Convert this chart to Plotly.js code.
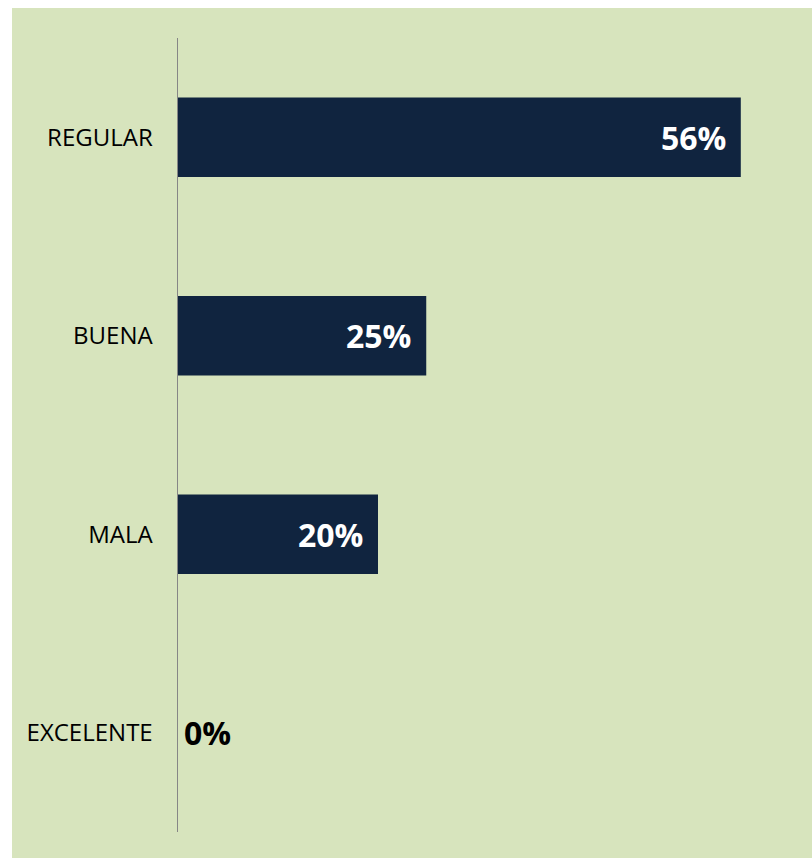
<!DOCTYPE html>
<html>
<head>
<meta charset="utf-8">
<script src="https://cdn.plot.ly/plotly-3.0.1.min.js"></script>
<style>html,body{margin:0;padding:0;background:#fff;}#chart{width:812px;height:858px;}</style>
</head>
<body>
<div id="chart"></div>
<script>
// Data (top-to-bottom order as in the picture)
var categories = ["REGULAR", "BUENA", "MALA", "EXCELENTE"];
var values = [0.56, 0.247, 0.199, 0];
var valueLabels = values.map(function (v) { return Math.round(v * 100) + "%"; });

var FONT = "'Open Sans', 'Noto Sans', sans-serif";
var BAR_COLOR = "#10243F";
var BG_GREEN = "#D7E4BD";

var trace = {
  type: "bar",
  orientation: "h",
  x: values,
  y: categories,
  width: 0.4,
  marker: { color: BAR_COLOR, line: { width: 0 } },
  hoverinfo: "none"
};

var annotations = values.map(function (v, i) {
  var inside = v > 0;
  return {
    x: v,
    y: categories[i],
    xref: "x",
    yref: "y",
    text: "<b>" + valueLabels[i] + "</b>",
    showarrow: false,
    xanchor: inside ? "right" : "left",
    xshift: inside ? -13 : 4,
    font: { family: FONT, size: 32, color: inside ? "#FFFFFF" : "#000000" }
  };
});

var layout = {
  width: 812,
  height: 858,
  margin: { l: 178, r: 31, t: 38, b: 26, pad: 0 },
  paper_bgcolor: "#FFFFFF",
  plot_bgcolor: BG_GREEN,
  showlegend: false,
  bargap: 0.6,
  xaxis: {
    range: [0, 0.6],
    showgrid: false,
    zeroline: false,
    showticklabels: false,
    showline: false,
    ticks: "",
    fixedrange: true
  },
  yaxis: {
    type: "category",
    autorange: "reversed",
    showgrid: false,
    zeroline: false,
    showline: true,
    linecolor: "#868686",
    linewidth: 1.5,
    ticks: "",
    ticklabelstandoff: 19,
    tickfont: { family: FONT, size: 24, color: "#000000" },
    fixedrange: true
  },
  shapes: [{
    type: "rect",
    xref: "paper",
    yref: "paper",
    x0: (12 - 178) / 603,
    x1: (812 - 178) / 603,
    y0: (832 - 858) / 794,
    y1: (832 - 8) / 794,
    fillcolor: BG_GREEN,
    line: { width: 0 },
    layer: "below"
  }],
  annotations: annotations
};

Plotly.newPlot("chart", [trace], layout, { displayModeBar: false, staticPlot: true });
</script>
</body>
</html>
